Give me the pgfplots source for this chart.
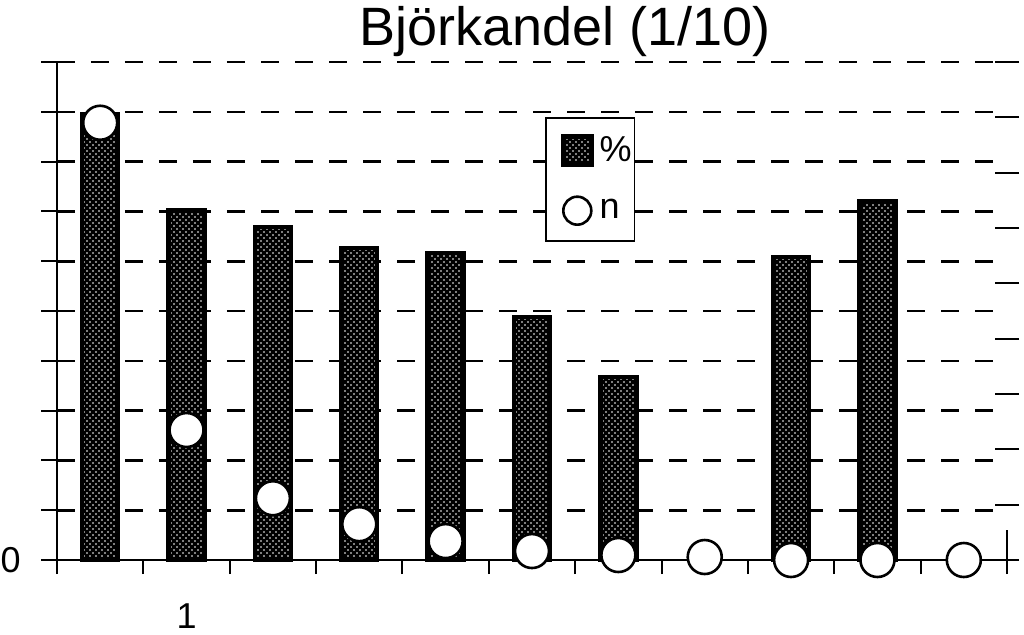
\documentclass[border=0pt]{standalone}
\usepackage{pgfplots}
\pgfplotsset{compat=1.18}
\usepackage{fontspec}
\setmainfont{Liberation Sans}
\usetikzlibrary{patterns}
\pgfdeclarepatternformonly{mydots}{\pgfqpoint{-1pt}{-1pt}}{\pgfqpoint{4pt}{4pt}}{\pgfqpoint{3pt}{3pt}}{%
  \pgfpathcircle{\pgfqpoint{0pt}{0pt}}{0.42pt}%
  \pgfpathcircle{\pgfqpoint{1.5pt}{1.5pt}}{0.42pt}%
  \pgfusepath{fill}}
\pgfplotsset{
  barleg/.style={legend image code/.code={\path (0pt,0pt); \draw[##1] (7pt,-7pt) rectangle (21pt,7pt);}},
  circleg/.style={legend image code/.code={\path (0pt,0pt); \draw[##1, mark size=7pt] plot coordinates {(14pt,0pt)};}},
}
\begin{document}
\begin{tikzpicture}
% main axis: bars, circles, grid, left ticks
\begin{axis}[
  name=ax, at={(0,0)}, anchor=south west,
  scale only axis, width=475pt, height=249pt,
  xmin=-0.5, xmax=10.5, ymin=0, ymax=10,
  axis x line*=bottom, axis y line*=left,
  axis line style={line width=1pt, black},
  xtick=\empty,
  ytick={0,1,...,10}, yticklabels={},
  tick align=center, major tick length=16pt,
  tick style={line width=1pt, black},
  ymajorgrids,
  grid style={line width=1.3pt, black, dash pattern=on 9pt off 8pt},
  clip=false,
  legend style={at={(0.514,0.8896)}, anchor=north west, draw=black,
    line width=0.8pt, font=\fontsize{18}{20}\selectfont,
    inner xsep=0.5pt, inner ysep=8.25pt, row sep=15pt, column sep=2pt,
    nodes={inner sep=1pt}},
  legend cell align=left,
]
\addplot[ybar, bar width=18pt, draw=black, line width=2.2pt,
  preaction={fill=black}, pattern=mydots, pattern color=white,
  barleg]
  coordinates {
  (0,8.95) (1,7.03) (2,6.69) (3,6.27) (4,6.16) (5,4.88) (6,3.67)
  (8,6.08) (9,7.21)
};
\addlegendentry{\%}
\addplot[only marks, mark=*, mark size=8.5pt,
  mark options={fill=white, draw=black, line width=1.3pt},
  circleg]
  coordinates {
  (0,8.78) (1,2.61) (2,1.24) (3,0.72) (4,0.38) (5,0.18) (6,0.10)
  (7,0.06) (8,0) (9,0) (10,0)
};
\addlegendentry{n}
\node[anchor=base, font=\fontsize{27}{30}\selectfont]
  at (rel axis cs:0.5347,1.0331) {Björkandel (1/10)};
\node[anchor=east, inner sep=0pt, font=\fontsize{18}{20}\selectfont]
  at (axis cs:-0.5,0) [xshift=-18pt] {0};
\node[anchor=center, inner sep=0pt, font=\fontsize{18}{20}\selectfont]
  at (axis cs:1,0) [yshift=-28pt] {1};
\draw[line width=1pt] (axis cs:10.5,0) -- (axis cs:10.5,0.6);
\end{axis}
% x ticks below the axis
\begin{axis}[
  at={(0,0)}, anchor=south west,
  scale only axis, width=475pt, height=249pt,
  xmin=-0.5, xmax=10.5, ymin=0, ymax=10,
  axis x line*=bottom, axis y line=none,
  axis line style={draw=none},
  xtick={-0.5,0.5,...,10.5}, xticklabels={},
  ytick=\empty,
  tick align=outside, major tick length=7pt,
  tick style={line width=1pt, black},
]
\end{axis}
% right axis ticks
\begin{axis}[
  at={(0,0)}, anchor=south west,
  scale only axis, width=475pt, height=249pt,
  xmin=-0.5, xmax=10.5, ymin=0, ymax=9,
  axis y line*=right, axis x line=none,
  axis line style={draw=none},
  xtick=\empty,
  ytick={0,1,...,9}, yticklabels={},
  tick align=center, major tick length=12pt,
  tick style={line width=1pt, black},
]
\end{axis}
\pgfresetboundingbox
\path[use as bounding box] ([shift={(-28.5pt,-37pt)}]ax.south west)
  rectangle ([shift={(483.5pt,280pt)}]ax.south west);
\end{tikzpicture}
\end{document}
